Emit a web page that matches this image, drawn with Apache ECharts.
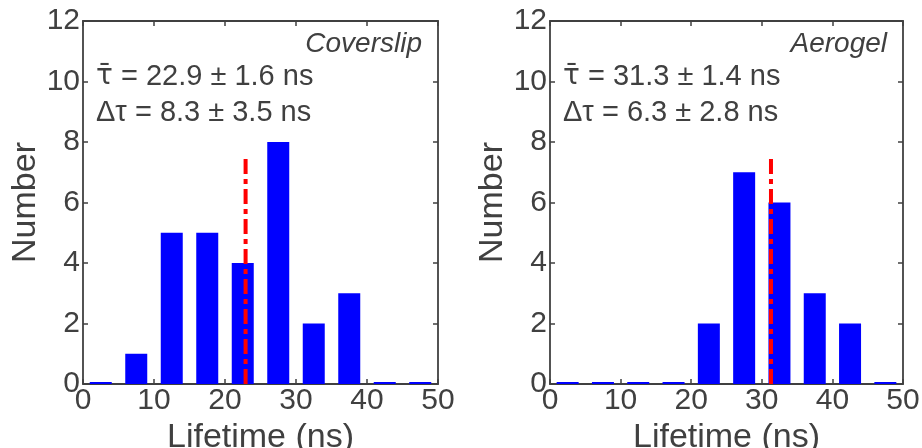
<!DOCTYPE html>
<html>
<head>
    <meta charset="utf-8">
    <title>Lifetime histograms</title>
    <script src="https://cdn.jsdelivr.net/npm/echarts@6/dist/echarts.min.js"></script>
    <style>
        html, body { margin: 0; padding: 0; background: #fff; }
        #chart { width: 922px; height: 448px; }
    </style>
</head>
<body>
<div id="chart"></div>
<script type="text/javascript">
    // histogram data, 5 ns bins
    var binCenters = [2.5, 7.5, 12.5, 17.5, 22.5, 27.5, 32.5, 37.5, 42.5, 47.5];
    var coverslipCounts = [0, 1, 5, 5, 4, 8, 2, 3, 0, 0];
    var aerogelCounts = [0, 0, 0, 0, 2, 7, 6, 3, 2, 0];
    // mean lifetime marker (x) and its height
    var meanLifetime = [22.9, 31.3];
    var meanLineTop = 7.5;
    var panelTitles = ['Coverslip', 'Aerogel'];
    var meanText = ['22.9 \u00b1 1.6 ns', '31.3 \u00b1 1.4 ns'];
    var widthText = ['8.3 \u00b1 3.5 ns', '6.3 \u00b1 2.8 ns'];

    var txt = '#404040';
    var font = '"Liberation Sans", Arial, Helvetica, sans-serif';

    var grids = [
        {left: 83, top: 21, width: 355, height: 363, outerBoundsMode: 'none'},
        {left: 550, top: 21, width: 353, height: 363, outerBoundsMode: 'none'}
    ];
    var nameGapY = [38, 40];

    var xAxes = [], yAxes = [], series = [], graphics = [];
    [coverslipCounts, aerogelCounts].forEach(function (counts, i) {
        var line = {show: true, onZero: false, lineStyle: {color: txt, width: 1.8}};
        var tick = {show: true, inside: true, length: 5, lineStyle: {color: txt, width: 1.5}};
        xAxes.push({
            type: 'value', gridIndex: i, position: 'bottom', min: 0, max: 50, interval: 10,
            axisLine: line, axisTick: tick, splitLine: {show: false},
            axisLabel: {color: txt, fontSize: 30, fontFamily: font, margin: 2},
            name: 'Lifetime (ns)', nameLocation: 'middle', nameGap: 29,
            nameTextStyle: {color: txt, fontSize: 34, fontFamily: font}
        });
        xAxes.push({
            type: 'value', gridIndex: i, position: 'top', min: 0, max: 50, interval: 10,
            axisLine: line, axisTick: tick, splitLine: {show: false}, axisLabel: {show: false}
        });
        yAxes.push({
            type: 'value', gridIndex: i, position: 'left', min: 0, max: 12, interval: 2,
            axisLine: line, axisTick: tick, splitLine: {show: false},
            axisLabel: {color: txt, fontSize: 30, fontFamily: font, margin: 3},
            name: 'Number', nameLocation: 'middle', nameGap: nameGapY[i],
            nameTextStyle: {color: txt, fontSize: 34, fontFamily: font}
        });
        yAxes.push({
            type: 'value', gridIndex: i, position: 'right', min: 0, max: 12, interval: 2,
            axisLine: line, axisTick: tick, splitLine: {show: false}, axisLabel: {show: false}
        });
        series.push({
            type: 'bar', xAxisIndex: i * 2, yAxisIndex: i * 2,
            data: binCenters.map(function (c, k) { return [c, counts[k]]; }),
            barWidth: 22, barMinHeight: 2,
            itemStyle: {color: '#0000ff'}, silent: true, z: 2
        });
        series.push({
            type: 'line', xAxisIndex: i * 2, yAxisIndex: i * 2,
            data: [[meanLifetime[i], 0], [meanLifetime[i], meanLineTop]],
            symbol: 'none', silent: true, z: 5,
            lineStyle: {color: '#ff0000', width: 4, type: [15, 5, 5, 5]}
        });
        var g = grids[i];
        graphics.push({
            type: 'text', x: g.left + g.width - 16, y: 44, z: 10,
            style: {text: panelTitles[i], font: 'italic 28px ' + font, fill: txt,
                    textAlign: 'right', textVerticalAlign: 'middle'}
        });
        graphics.push({
            type: 'text', x: g.left + 13, y: 77, z: 10,
            style: {
                text: '{t|\u03c4\u0304} = ' + meanText[i],
                font: '29px ' + font, fill: txt, textVerticalAlign: 'middle',
                rich: {t: {fontFamily: '"DejaVu Sans"', fontSize: 28, fill: txt}}
            }
        });
        graphics.push({
            type: 'text', x: g.left + 13, y: 113, z: 10,
            style: {
                text: '\u0394\u03c4 = ' + widthText[i],
                font: '29px ' + font, fill: txt, textVerticalAlign: 'middle'
            }
        });
    });

    var myChart = echarts.init(document.getElementById('chart'));
    myChart.setOption({
        animation: false,
        backgroundColor: '#ffffff',
        grid: grids,
        xAxis: xAxes,
        yAxis: yAxes,
        series: series,
        graphic: graphics
    });
</script>
</body>
</html>
